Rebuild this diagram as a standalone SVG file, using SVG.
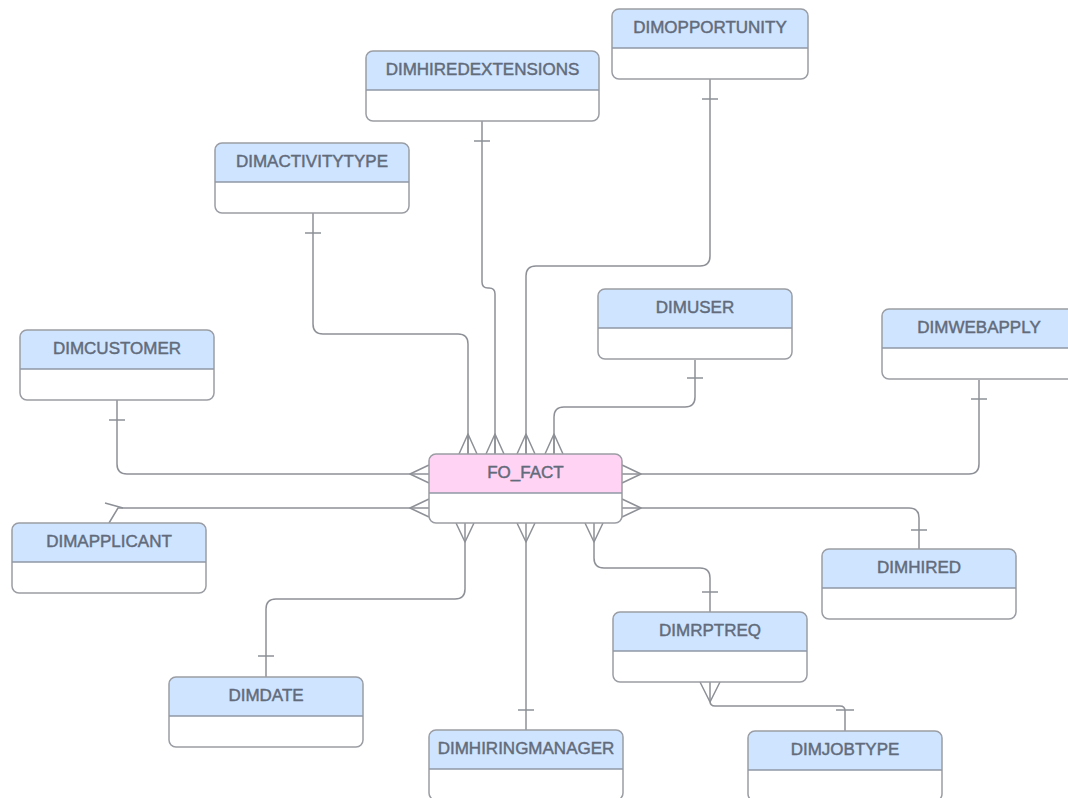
<svg xmlns="http://www.w3.org/2000/svg" width="1068" height="798" viewBox="0 0 1068 798">
<style>
.bg{fill:#ffffff}
.hdr{fill:#cfe4ff}
.hdrf{fill:#ffd3f4}
.ol{fill:none;stroke:#9a9da3;stroke-width:1.5}
.dv{stroke:#8f98a6;stroke-width:1.5}
.t{font-family:"Liberation Sans",Arial,sans-serif;font-size:17px;fill:#626b7a;stroke:#626b7a;stroke-width:0.45;text-anchor:middle}
.c{fill:none;stroke:#8d9096;stroke-width:1.5;stroke-linejoin:round}
</style>
<rect width="1068" height="798" fill="#ffffff"/>
<g id="connectors">
  <!-- DIMOPPORTUNITY -->
  <path class="c" d="M710 79 V256 Q710 266 700 266 H536 Q526 266 526 276 V454"/>
  <path class="c" d="M702 99 H718"/>
  <path class="c" d="M517 454 L526 434 L535 454 M526 434 V454"/>
  <!-- DIMHIREDEXTENSIONS -->
  <path class="c" d="M482 121 V282 Q482 288 488 288 H489 Q495 288 495 294 V454"/>
  <path class="c" d="M474 141 H490"/>
  <path class="c" d="M486 454 L495 434 L504 454 M495 434 V454"/>
  <!-- DIMACTIVITYTYPE -->
  <path class="c" d="M313 213 V324 Q313 334 323 334 H458 Q468 334 468 344 V454"/>
  <path class="c" d="M305 233 H321"/>
  <path class="c" d="M459 454 L468 434 L477 454 M468 434 V454"/>
  <!-- DIMUSER -->
  <path class="c" d="M695 360 V397 Q695 407 685 407 H564 Q554 407 554 417 V454"/>
  <path class="c" d="M687 378 H703"/>
  <path class="c" d="M545 454 L554 434 L563 454 M554 434 V454"/>
  <!-- DIMCUSTOMER -->
  <path class="c" d="M117 400 V464 Q117 474 127 474 H429"/>
  <path class="c" d="M109 420 H125"/>
  <path class="c" d="M429 465 L410 474 L429 483"/>
  <!-- DIMAPPLICANT -->
  <path class="c" d="M429 508 H118 L109 523"/>
  <path class="c" d="M105 503 L123 508"/>
  <path class="c" d="M429 499 L410 508 L429 517"/>
  <!-- DIMWEBAPPLY -->
  <path class="c" d="M979 380 V464 Q979 474 969 474 H622"/>
  <path class="c" d="M971 399 H987"/>
  <path class="c" d="M622 465 L641 474 L622 483"/>
  <!-- DIMHIRED -->
  <path class="c" d="M622 508 H909 Q919 508 919 518 V549"/>
  <path class="c" d="M911 530 H927"/>
  <path class="c" d="M622 499 L641 508 L622 517"/>
  <!-- DIMDATE -->
  <path class="c" d="M465 523 V589 Q465 599 455 599 H276 Q266 599 266 609 V677"/>
  <path class="c" d="M258 656 H274"/>
  <path class="c" d="M456 523 L465 542 L474 523"/>
  <!-- DIMHIRINGMANAGER -->
  <path class="c" d="M526 523 V730"/>
  <path class="c" d="M518 710 H534"/>
  <path class="c" d="M517 523 L526 542 L535 523"/>
  <!-- DIMRPTREQ -->
  <path class="c" d="M594 523 V558 Q594 568 604 568 H700 Q710 568 710 578 V612"/>
  <path class="c" d="M702 592 H718"/>
  <path class="c" d="M585 523 L594 542 L603 523"/>
  <!-- DIMJOBTYPE -->
  <path class="c" d="M710 682 V701 Q710 706 715 706 H840 Q845 706 845 711 V731"/>
  <path class="c" d="M836 710 H854"/>
  <path class="c" d="M700 682 L710 702 L720 682"/>
</g>
<g id="dimopportunity">
  <rect class="bg" x="612" y="9" width="196" height="70" rx="7"/>
  <path class="hdr" d="M612 48 V16 Q612 9 619 9 H801 Q808 9 808 16 V48 Z"/>
  <rect class="ol" x="612" y="9" width="196" height="70" rx="7"/>
  <line class="dv" x1="612" y1="48" x2="808" y2="48"/>
  <text class="t" x="710" y="33">DIMOPPORTUNITY</text>
</g>
<g id="dimhiredextensions">
  <rect class="bg" x="366" y="51" width="233" height="70" rx="7"/>
  <path class="hdr" d="M366 90 V58 Q366 51 373 51 H592 Q599 51 599 58 V90 Z"/>
  <rect class="ol" x="366" y="51" width="233" height="70" rx="7"/>
  <line class="dv" x1="366" y1="90" x2="599" y2="90"/>
  <text class="t" x="482.5" y="75">DIMHIREDEXTENSIONS</text>
</g>
<g id="dimactivitytype">
  <rect class="bg" x="215" y="143" width="194" height="70" rx="7"/>
  <path class="hdr" d="M215 182 V150 Q215 143 222 143 H402 Q409 143 409 150 V182 Z"/>
  <rect class="ol" x="215" y="143" width="194" height="70" rx="7"/>
  <line class="dv" x1="215" y1="182" x2="409" y2="182"/>
  <text class="t" x="312" y="167">DIMACTIVITYTYPE</text>
</g>
<g id="dimcustomer">
  <rect class="bg" x="20" y="330" width="194" height="70" rx="7"/>
  <path class="hdr" d="M20 369 V337 Q20 330 27 330 H207 Q214 330 214 337 V369 Z"/>
  <rect class="ol" x="20" y="330" width="194" height="70" rx="7"/>
  <line class="dv" x1="20" y1="369" x2="214" y2="369"/>
  <text class="t" x="117" y="354">DIMCUSTOMER</text>
</g>
<g id="dimapplicant">
  <rect class="bg" x="12" y="523" width="194" height="70" rx="7"/>
  <path class="hdr" d="M12 562 V530 Q12 523 19 523 H199 Q206 523 206 530 V562 Z"/>
  <rect class="ol" x="12" y="523" width="194" height="70" rx="7"/>
  <line class="dv" x1="12" y1="562" x2="206" y2="562"/>
  <text class="t" x="109" y="547">DIMAPPLICANT</text>
</g>
<g id="dimuser">
  <rect class="bg" x="598" y="289" width="194" height="70" rx="7"/>
  <path class="hdr" d="M598 328 V296 Q598 289 605 289 H785 Q792 289 792 296 V328 Z"/>
  <rect class="ol" x="598" y="289" width="194" height="70" rx="7"/>
  <line class="dv" x1="598" y1="328" x2="792" y2="328"/>
  <text class="t" x="695" y="313">DIMUSER</text>
</g>
<g id="dimwebapply">
  <rect class="bg" x="882" y="309" width="194" height="70" rx="7"/>
  <path class="hdr" d="M882 348 V316 Q882 309 889 309 H1069 Q1076 309 1076 316 V348 Z"/>
  <rect class="ol" x="882" y="309" width="194" height="70" rx="7"/>
  <line class="dv" x1="882" y1="348" x2="1076" y2="348"/>
  <text class="t" x="979" y="333">DIMWEBAPPLY</text>
</g>
<g id="fo_fact">
  <rect class="bg" x="429" y="454" width="193" height="69" rx="7"/>
  <path class="hdrf" d="M429 493 V461 Q429 454 436 454 H615 Q622 454 622 461 V493 Z"/>
  <rect class="ol" x="429" y="454" width="193" height="69" rx="7"/>
  <line class="dv" x1="429" y1="493" x2="622" y2="493"/>
  <text class="t" x="525.5" y="478">FO_FACT</text>
</g>
<g id="dimhired">
  <rect class="bg" x="822" y="549" width="194" height="70" rx="7"/>
  <path class="hdr" d="M822 588 V556 Q822 549 829 549 H1009 Q1016 549 1016 556 V588 Z"/>
  <rect class="ol" x="822" y="549" width="194" height="70" rx="7"/>
  <line class="dv" x1="822" y1="588" x2="1016" y2="588"/>
  <text class="t" x="919" y="573">DIMHIRED</text>
</g>
<g id="dimrptreq">
  <rect class="bg" x="613" y="612" width="194" height="70" rx="7"/>
  <path class="hdr" d="M613 651 V619 Q613 612 620 612 H800 Q807 612 807 619 V651 Z"/>
  <rect class="ol" x="613" y="612" width="194" height="70" rx="7"/>
  <line class="dv" x1="613" y1="651" x2="807" y2="651"/>
  <text class="t" x="710" y="636">DIMRPTREQ</text>
</g>
<g id="dimjobtype">
  <rect class="bg" x="748" y="731" width="194" height="70" rx="7"/>
  <path class="hdr" d="M748 770 V738 Q748 731 755 731 H935 Q942 731 942 738 V770 Z"/>
  <rect class="ol" x="748" y="731" width="194" height="70" rx="7"/>
  <line class="dv" x1="748" y1="770" x2="942" y2="770"/>
  <text class="t" x="845" y="755">DIMJOBTYPE</text>
</g>
<g id="dimdate">
  <rect class="bg" x="169" y="677" width="194" height="70" rx="7"/>
  <path class="hdr" d="M169 716 V684 Q169 677 176 677 H356 Q363 677 363 684 V716 Z"/>
  <rect class="ol" x="169" y="677" width="194" height="70" rx="7"/>
  <line class="dv" x1="169" y1="716" x2="363" y2="716"/>
  <text class="t" x="266" y="701">DIMDATE</text>
</g>
<g id="dimhiringmanager">
  <rect class="bg" x="429" y="730" width="194" height="70" rx="7"/>
  <path class="hdr" d="M429 769 V737 Q429 730 436 730 H616 Q623 730 623 737 V769 Z"/>
  <rect class="ol" x="429" y="730" width="194" height="70" rx="7"/>
  <line class="dv" x1="429" y1="769" x2="623" y2="769"/>
  <text class="t" x="526" y="754">DIMHIRINGMANAGER</text>
</g>
</svg>
